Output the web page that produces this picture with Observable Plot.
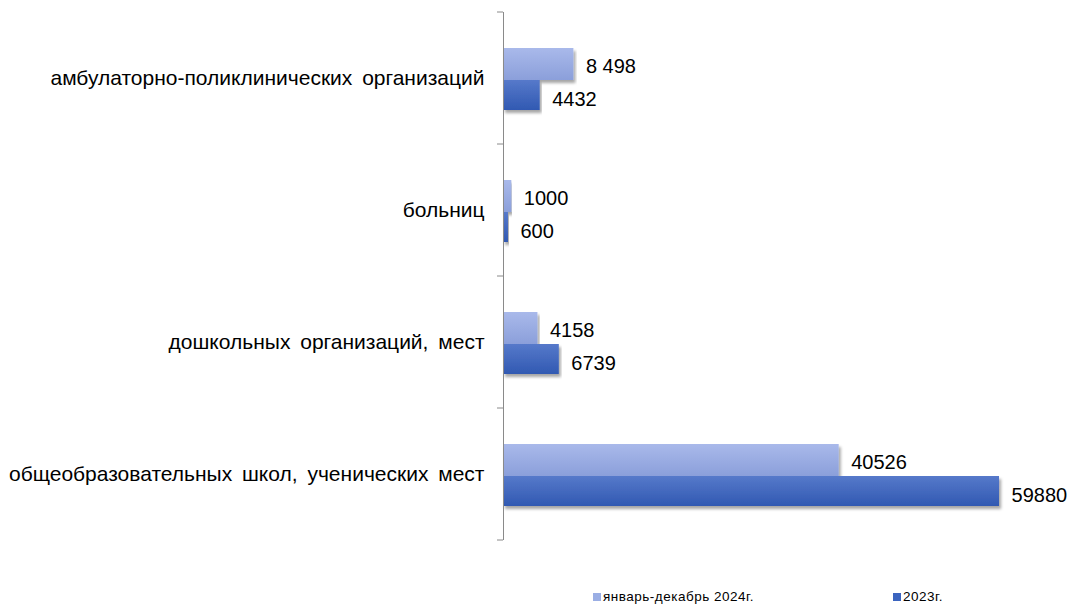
<!DOCTYPE html>
<html><head><meta charset="utf-8">
<script src="https://cdn.jsdelivr.net/npm/d3@7"></script>
<script src="https://cdn.jsdelivr.net/npm/@observablehq/plot@0.6"></script>
<style>
body{margin:0;background:#fff;font-family:"Liberation Sans",Arial,sans-serif}
#wrap{position:relative;width:1079px;height:605px;overflow:hidden}
.leg{position:absolute;top:590px;font-size:13.5px;line-height:14px;color:#000;display:flex;align-items:center;letter-spacing:0.5px;white-space:nowrap}
.sw{display:inline-block;width:8px;height:8px;margin-right:2px}
</style>
</head><body><div id="wrap"></div>
<script>
const categories = [
  "амбулаторно-поликлинических организаций",
  "больниц",
  "дошкольных организаций, мест",
  "общеобразовательных школ, ученических мест"
];
const seriesNames = ["январь-декабрь 2024г.", "2023г."];
const values2024 = [8498, 1000, 4158, 40526];
const values2023 = [4432, 600, 6739, 59880];
const labels2024 = ["8 498", "1000", "4158", "40526"];
const labels2023 = ["4432", "600", "6739", "59880"];

const rows2024 = categories.map((c, i) => ({cat: c, v: values2024[i], t: labels2024[i]}));
const rows2023 = categories.map((c, i) => ({cat: c, v: values2023[i], t: labels2023[i]}));

function defs() {
  const g = d3.create("svg:g");
  const d = g.append("defs");
  const g1 = d.append("linearGradient").attr("id", "g2024").attr("x1", 0).attr("y1", 0).attr("x2", 0).attr("y2", 1);
  g1.append("stop").attr("offset", "0%").attr("stop-color", "#a9b9ea");
  g1.append("stop").attr("offset", "100%").attr("stop-color", "#8b9fda");
  const g2 = d.append("linearGradient").attr("id", "g2023").attr("x1", 0).attr("y1", 0).attr("x2", 0).attr("y2", 1);
  g2.append("stop").attr("offset", "0%").attr("stop-color", "#5679ca");
  g2.append("stop").attr("offset", "100%").attr("stop-color", "#3159b2");
  const f = d.append("filter").attr("id", "shadow").attr("x", "-5%").attr("y", "-20%").attr("width", "110%").attr("height", "160%");
  f.append("feDropShadow").attr("dx", 2).attr("dy", 3).attr("stdDeviation", 1.6).attr("flood-color", "#000").attr("flood-opacity", 0.35);
  return g.node();
}

function boundaryTicks(index, scales) {
  const g = d3.create("svg:g");
  const y = scales.y;
  const bw = y.bandwidth();
  const x0 = scales.x(0);
  const ys = categories.map(c => y(c));
  ys.push(y(categories[categories.length - 1]) + bw);
  g.selectAll("line").data(ys).join("line")
    .attr("x1", x0 - 6).attr("x2", x0)
    .attr("y1", d => d).attr("y2", d => d)
    .attr("stroke", "#8a8a8a");
  return g.node();
}

const chart = Plot.plot({
  width: 1079,
  height: 575,
  marginLeft: 503,
  marginRight: 79,
  marginTop: 12,
  marginBottom: 35,
  style: {fontFamily: "'Liberation Sans', Arial, sans-serif", background: "#fff", color: "#000"},
  x: {domain: [0, 60000], axis: null},
  y: {domain: categories, padding: 0, label: null},
  marks: [
    defs,
    Plot.barX(rows2024, {x: "v", y: "cat", fill: "url(#g2024)", insetTop: 36, insetBottom: 64}),
    Plot.barX(rows2023, {x: "v", y: "cat", fill: "url(#g2023)", insetTop: 68, insetBottom: 34}),
    Plot.ruleX([0], {stroke: "#8a8a8a"}),
    boundaryTicks,
    Plot.axisY({tickSize: 0, tickPadding: 19, fontSize: 21, label: null}),
    Plot.text(rows2024, {x: "v", y: "cat", text: "t", dx: 12, dy: -12, textAnchor: "start", fontSize: 20, fill: "#000"}),
    Plot.text(rows2023, {x: "v", y: "cat", text: "t", dx: 12, dy: 21, textAnchor: "start", fontSize: 20, fill: "#000"})
  ]
});

d3.select(chart).selectAll("rect").filter(function() {
  const f = this.getAttribute("fill") || (this.parentNode && this.parentNode.getAttribute("fill")) || "";
  return f.startsWith("url");
}).attr("filter", "url(#shadow)");
d3.select(chart).selectAll("g[aria-label='y-axis tick label'] text").style("word-spacing", "4px");

const wrap = document.getElementById("wrap");
wrap.appendChild(chart);

const legColors = ["#9aaee4", "#3b64bf"];
const legLeft = [593, 893];
seriesNames.forEach((n, i) => {
  const d = document.createElement("div");
  d.className = "leg";
  d.style.left = legLeft[i] + "px";
  d.innerHTML = `<span class="sw" style="background:${legColors[i]}"></span><span>${n}</span>`;
  wrap.appendChild(d);
});
</script>
</body></html>
